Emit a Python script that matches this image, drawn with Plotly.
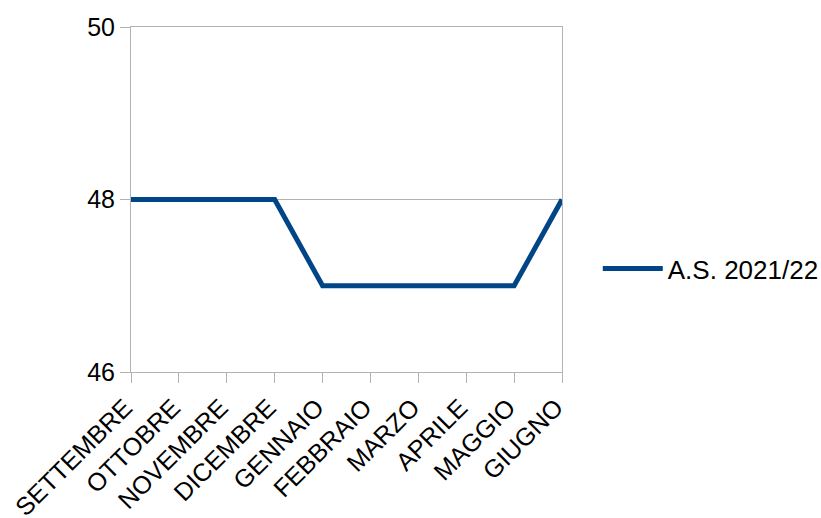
import plotly.graph_objects as go

months = ["SETTEMBRE", "OTTOBRE", "NOVEMBRE", "DICEMBRE", "GENNAIO",
          "FEBBRAIO", "MARZO", "APRILE", "MAGGIO", "GIUGNO"]
values = [48, 48, 48, 48, 47, 47, 47, 47, 47, 48]
series_name = "A.S. 2021/22"
y_ticks = [46, 48, 50]

FONT = "Liberation Sans, Arial, sans-serif"

fig = go.Figure()
fig.add_trace(go.Scatter(
    x=list(range(len(months))), y=values, mode="lines", name=series_name,
    line=dict(color="#004586", width=5),
    showlegend=True, cliponaxis=False,
))

fig.update_layout(
    width=821, height=518,
    margin=dict(l=131, r=259, t=27, b=146, autoexpand=False),
    plot_bgcolor="white", paper_bgcolor="white",
    font=dict(family=FONT, size=25, color="black"),
    showlegend=True,
    legend=dict(x=1.083, y=0.30, xanchor="left", yanchor="middle",
                font=dict(size=26), itemwidth=60, bgcolor="rgba(0,0,0,0)"),
)
fig.update_xaxes(
    range=[0, len(months) - 1],
    tickmode="array", tickvals=list(range(len(months))), ticktext=months,
    tickangle=-45, ticks="outside", ticklen=10, tickcolor="#b3b3b3",
    tickfont=dict(size=25), ticklabelshift=-6,
    showgrid=False, showline=True, linecolor="#b3b3b3", linewidth=1,
    mirror=True, zeroline=False, automargin=False,
)
fig.update_yaxes(
    range=[46, 50], tickvals=y_ticks,
    ticks="outside", ticklen=10, tickcolor="#b3b3b3",
    tickfont=dict(size=25),
    showgrid=True, gridcolor="#b3b3b3", gridwidth=1,
    showline=True, linecolor="#b3b3b3", linewidth=1, mirror=True,
    zeroline=False, automargin=False,
)

fig.write_html("out.html")
